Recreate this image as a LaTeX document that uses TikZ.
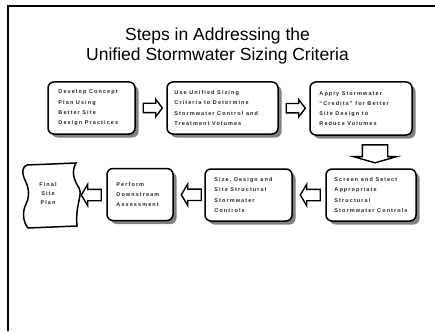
\documentclass[tikz,border=0pt]{standalone}
\usepackage{fontspec}
\setmainfont{Liberation Sans}
\newfontfamily\boxfont[LetterSpace=20]{Liberation Sans Bold}
\usetikzlibrary{shapes.arrows,shadows,calc}
\begin{document}
\begin{tikzpicture}[x=1pt,y=-1pt,
  stepbox/.style={draw, line width=1.5pt, rounded corners=6pt, fill=white,
    general shadow={fill=black!50, shadow xshift=3.5pt, shadow yshift=-3.5pt}, inner sep=0pt},
  steptext/.style={font=\boxfont\fontsize{5.5}{10.3}\selectfont, align=left, anchor=west, inner sep=0pt, text=black!85},
  titletext/.style={font=\fontsize{17.5}{20}\selectfont, anchor=base, inner sep=0pt},
  blockarrow/.style={single arrow, draw, line width=1.4pt, fill=white, inner xsep=0pt},
  rarrow/.style={blockarrow, minimum height=19pt, inner ysep=4pt, single arrow head extend=4pt, single arrow tip angle=106},
  larrow/.style={blockarrow, rotate=180, minimum height=20pt, inner ysep=5pt, single arrow head extend=5pt, single arrow tip angle=118},
  darrow/.style={blockarrow, rotate=-90, minimum height=18pt, inner ysep=12pt, single arrow head extend=9pt, single arrow tip angle=148},
]
\useasboundingbox (0,0) rectangle (435,331);
% frame
\draw[line width=2pt] (8,331) -- (8,6) -- (435,6);
% title
\node[titletext] (title1) at (217.5,41) {Steps in Addressing the};
\node[titletext] (title2) at (217.5,61) {Unified Stormwater Sizing Criteria};
% row 1
\node[stepbox, minimum width=87pt, minimum height=52pt] (b1) at (91.5,108) {};
\node[stepbox, minimum width=111pt, minimum height=52pt] (b2) at (222.5,108) {};
\node[stepbox, minimum width=102pt, minimum height=53pt] (b3) at (361,108.5) {};
% row 2
\node[stepbox, minimum width=90pt, minimum height=52pt] (b4) at (371,195) {};
\node[stepbox, minimum width=87pt, minimum height=52pt] (b5) at (248.5,195) {};
\node[stepbox, minimum width=66pt, minimum height=52pt] (b6) at (140,194.5) {};
% texts
\node[steptext] (t1) at ([xshift=11pt]b1.west) {Develop Concept\\Plan Using\\Better Site\\Design Practices};
\node[steptext] (t2) at ([xshift=8pt]b2.west) {Use Unified Sizing\\Criteria to Determine\\Stormwater Control and\\Treatment Volumes};
\node[steptext] (t3) at ([xshift=10pt]b3.west) {Apply Stormwater\\“Credits” for Better\\Site Design to\\Reduce Volumes};
\node[steptext] (t4) at ([xshift=9pt]b4.west) {Screen and Select\\Appropriate\\Structural\\Stormwater Controls};
\node[steptext] (t5) at ([xshift=10pt]b5.west) {Size, Design and\\Site Structural\\Stormwater\\Controls};
\node[steptext] (t6) at ([xshift=10pt]b6.west) {Perform\\Downstream\\Assessment};
% final site plan
\draw[line width=1.5pt, fill=white] (27,165) -- (76,163)
  .. controls (71,172) and (74,180) .. (79,188)
  .. controls (83,195) and (75,205) .. (77,226)
  -- (28,228)
  .. controls (23,222) and (22,212) .. (26,204)
  .. controls (30,196) and (29,188) .. (25,180)
  .. controls (21,172) and (23,166) .. (27,165) -- cycle;
\node[font=\boxfont\fontsize{5.5}{9}\selectfont, align=center, inner sep=0pt, text=black!85] (fin) at (48,194) {Final\\Site\\Plan};
% arrows
\node[rarrow] (a1) at ($(b1.east)!0.5!(b2.west)$) {};
\node[rarrow] (a2) at ($(b2.east)!0.5!(b3.west)$) {};
\node[darrow] (a3) at ([xshift=9pt]$(b3.south)!0.5!(b4.north)$) {};
\node[larrow] (a4) at ([xshift=3pt]$(b5.east)!0.5!(b4.west)$) {};
\node[larrow] (a5) at ([xshift=4pt]$(b6.east)!0.5!(b5.west)$) {};
\node[larrow] (a6) at (93,195) {};
\end{tikzpicture}
\end{document}
